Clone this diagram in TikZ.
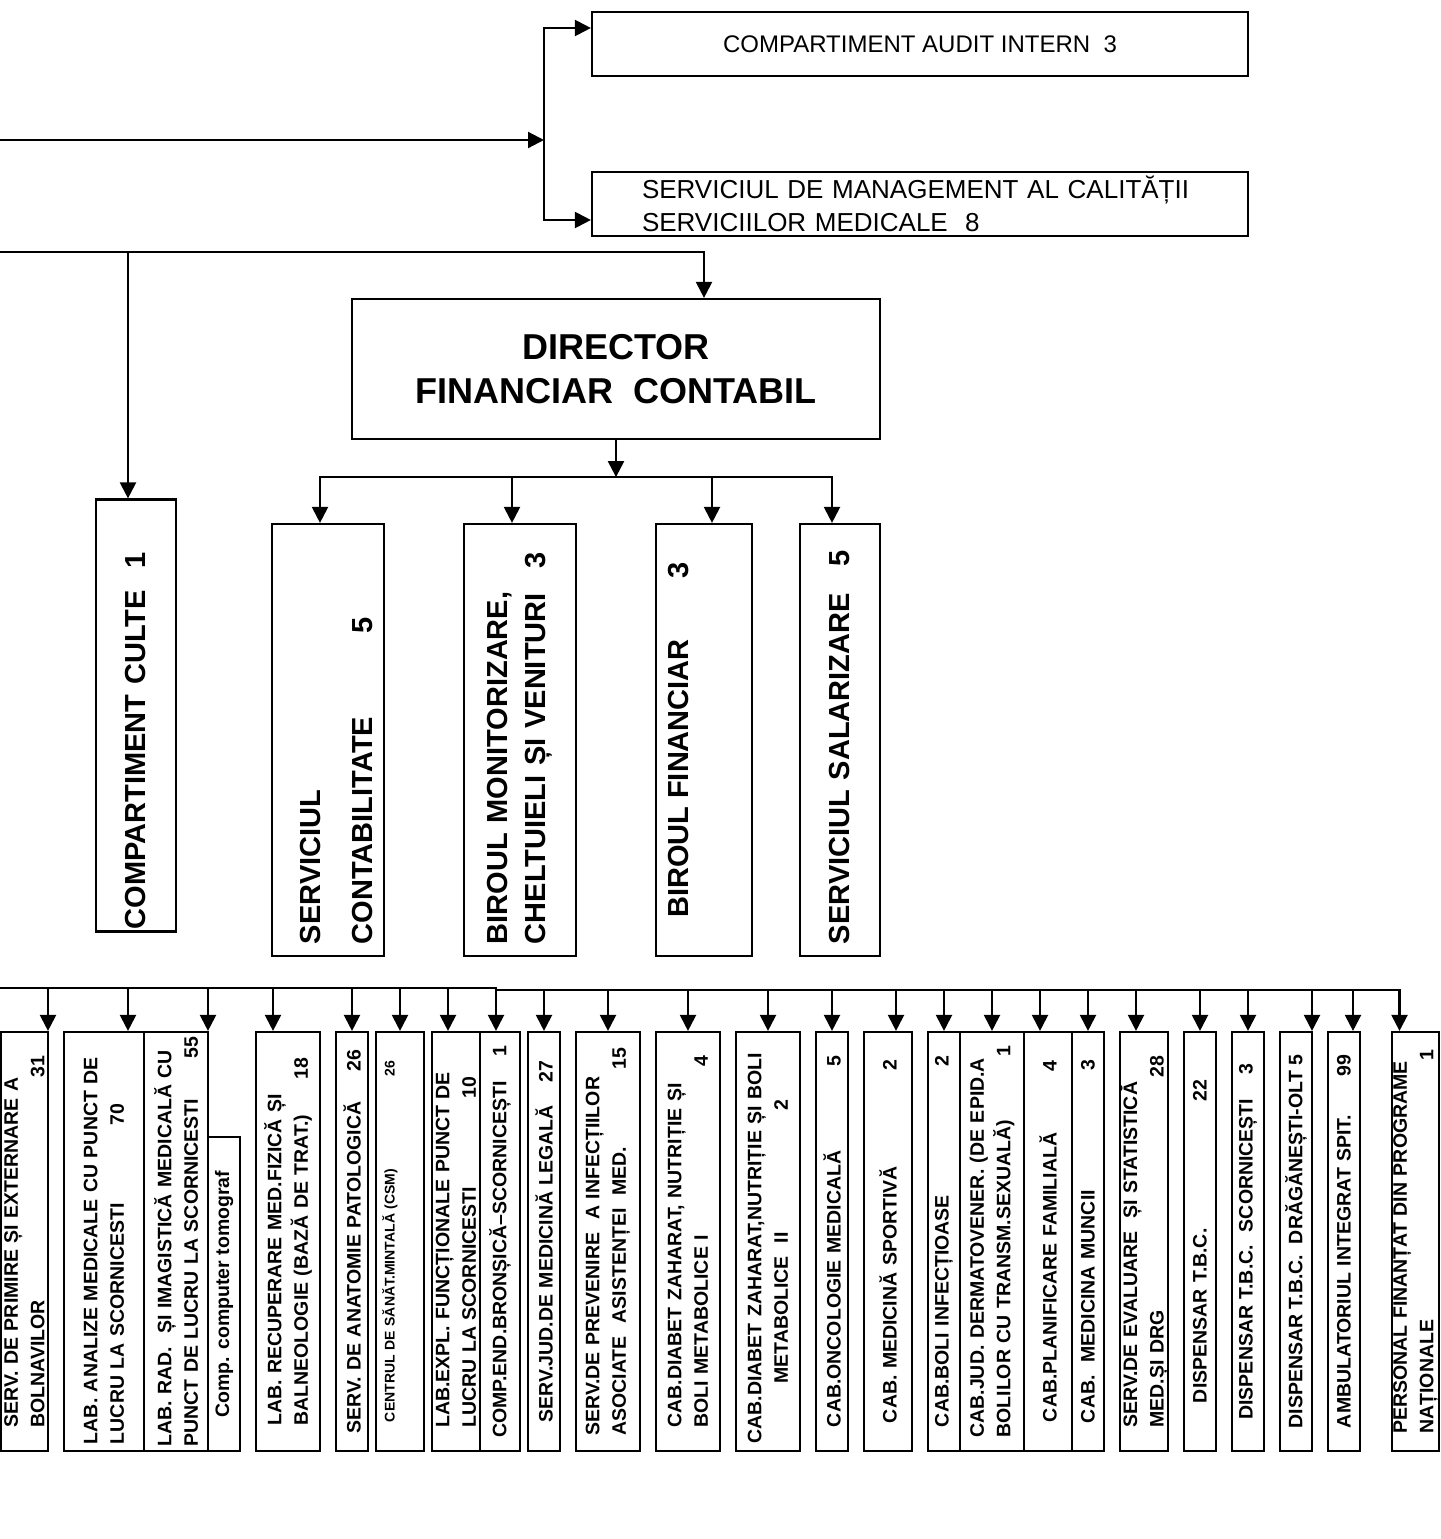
\documentclass[tikz,border=0pt]{standalone}
\usepackage{fontspec}
\setmainfont{Liberation Sans}
\usetikzlibrary{arrows.meta}
\setlength{\parindent}{0pt}
\tikzset{
    wire/.style={draw=black, line width=2.2pt, -{Stealth[length=16pt, width=16pt, inset=0pt]}},
    officebox/.style={
        rectangle, draw=black, line width=2.2pt,
        minimum width=656pt, minimum height=64pt, inner sep=0pt,
        font=\fontsize{24}{33.5}\selectfont
    },
    director/.style={
        rectangle, draw=black, line width=2.2pt, align=center,
        minimum width=528pt, minimum height=140pt,
        font=\bfseries\fontsize{36}{44}\selectfont
    },
    deptbox/.style={
        rectangle, draw=black, line width=2.2pt, rotate=90, align=left,
        minimum width=432pt, inner sep=0pt,
        font=\bfseries\fontsize{29}{38}\selectfont
    },
    unitbox/.style={
        rectangle, draw=black, line width=2.2pt, rotate=90, align=left,
        minimum width=419pt, inner sep=0pt,
        font=\bfseries\fontsize{19.5}{26.5}\selectfont
    }
}

\begin{document}
\begin{tikzpicture}[x=1pt, y=-1pt]
\useasboundingbox (0,0) rectangle (1440,1539);

% Offices (top right)
\node[officebox] (audit) at (920,44) {COMPARTIMENT AUDIT INTERN~~3};
\node[officebox, text width=556pt, align=left, font=\fontsize{26}{33.5}\selectfont] (quality) at (920,204) {SERVICIUL DE MANAGEMENT AL CALITĂȚII\\SERVICIILOR MEDICALE~~8};

% Financial director
\node[director] (dfc) at (616,369) {DIRECTOR\\FINANCIAR~~CONTABIL};

% Cults office
\node[deptbox, minimum height=80pt, text width=427pt] (culte) at (136,715.5) {COMPARTIMENT CULTE\hspace{22pt}1};

% Financial departments
\node[deptbox, minimum height=112pt, text width=408pt, text height=37pt] (cont) at (328,740) {SERVICIUL\\[14pt]CONTABILITATE\hspace{83pt}5};
\node[deptbox, minimum height=112pt, text width=408pt] (monit) at (520,740) {BIROUL MONITORIZARE,\\CHELTUIELI ȘI VENITURI\hspace{25pt}3};
\node[deptbox, minimum height=96pt, text depth=51pt] (fin) at (704,740) {BIROUL FINANCIAR\hspace{61pt}3};
\node[deptbox, minimum height=80pt, text width=408pt] (salar) at (840,740) {SERVICIUL SALARIZARE\hspace{27pt}5};

% Medical units (bottom row)
\node[unitbox, minimum height=47pt, text width=372pt] (b1) at (24.5,1241.5) {SERV. DE PRIMIRE ȘI EXTERNARE A\\BOLNAVILOR\hfill 31};
\node[unitbox, minimum height=80pt, text width=405pt] (b2) at (104,1241.5) {LAB. ANALIZE MEDICALE CU PUNCT DE\\LUCRU LA SCORNICESTI\hspace{78pt}70};
\node[unitbox, minimum height=64pt, text width=410pt] (b3) at (176,1241.5) {LAB. RAD.~ ȘI IMAGISTICĂ MEDICALĂ CU\\PUNCT DE LUCRU LA SCORNICESTI\hfill 55};
\node[unitbox, minimum width=314pt, minimum height=32pt] (b4) at (224,1294) {Comp. computer tomograf};
\node[unitbox, minimum height=64pt, text width=368pt] (b5) at (288,1241.5) {LAB. RECUPERARE MED.FIZICĂ ȘI\\BALNEOLOGIE (BAZĂ DE TRAT.)\hfill 18};
\node[unitbox, minimum height=32pt, text width=384pt] (b6) at (352,1241.5) {SERV. DE ANATOMIE PATOLOGICĂ\hfill 26};
\node[unitbox, minimum height=48pt, text width=361pt, text depth=23pt, font=\bfseries\fontsize{14}{18}\selectfont] (b7) at (400,1241.5) {CENTRUL DE SĂNĂT.MINTALĂ (CSM)\hfill 26};
\node[unitbox, minimum height=48pt, text width=372pt] (b8) at (456,1241.5) {LAB.EXPL. FUNCȚIONALE PUNCT DE\\LUCRU LA SCORNICESTI\hspace{89pt}10};
\node[unitbox, minimum height=40pt, text width=392pt] (b9) at (500,1241.5) {COMP.END.BRONȘICĂ–SCORNICEȘTI\hfill 1};
\node[unitbox, minimum height=32pt, text width=362pt] (b10) at (544,1241.5) {SERV.JUD.DE MEDICINĂ LEGALĂ\hfill 27};
\node[unitbox, minimum height=64pt, text width=388pt] (b11) at (608,1241.5) {SERV.DE PREVENIRE~ A INFECȚIILOR\\ASOCIATE~ ASISTENȚEI~ MED.\hfill 15};
\node[unitbox, minimum height=64pt, text width=372pt] (b12) at (688,1241.5) {CAB.DIABET ZAHARAT, NUTRIȚIE ȘI\\BOLI METABOLICE I\hfill 4};
\node[unitbox, minimum height=64pt, text width=404pt] (b13) at (768,1241.5) {CAB.DIABET ZAHARAT,NUTRIȚIE ȘI BOLI\\\hspace*{60pt}METABOLICE~~II\hspace{122pt}2};
\node[unitbox, minimum height=32pt, text width=371pt] (b14) at (832,1241.5) {CAB.ONCOLOGIE MEDICALĂ\hfill 5};
\node[unitbox, minimum height=48pt, text width=363pt] (b15) at (888,1241.5) {CAB. MEDICINĂ SPORTIVĂ\hfill 2};
\node[unitbox, minimum height=32pt, text width=371pt] (b16) at (944,1241.5) {CAB.BOLI INFECȚIOASE\hfill 2};
\node[unitbox, minimum height=64pt, text width=392pt] (b17) at (992,1241.5) {CAB.JUD. DERMATOVENER. (DE EPID.A\\BOLILOR CU TRANSM.SEXUALĂ)\hfill 1};
\node[unitbox, minimum height=48pt, text width=361pt] (b18) at (1048,1241.5) {CAB.PLANIFICARE FAMILIALĂ\hfill 4};
\node[unitbox, minimum height=32pt, text width=363pt] (b19) at (1088,1241.5) {CAB.~ MEDICINA MUNCII\hfill 3};
\node[unitbox, minimum height=48pt, text width=372pt] (b20) at (1144,1241.5) {SERV.DE EVALUARE~ ȘI STATISTICĂ\\MED.ȘI DRG\hfill 28};
\node[unitbox, minimum height=32pt, text width=323pt] (b21) at (1200,1241.5) {DISPENSAR T.B.C.\hfill 22};
\node[unitbox, minimum height=32pt, text width=356pt] (b22) at (1248,1241.5) {DISPENSAR T.B.C.~ SCORNICEȘTI\hfill 3};
\node[unitbox, minimum height=32pt] (b23) at (1296,1241.5) {DISPENSAR T.B.C.~ DRĂGĂNEȘTI-OLT 5};
\node[unitbox, minimum height=32pt, text width=373pt] (b24) at (1344,1241.5) {AMBULATORIUL INTEGRAT SPIT.\hfill 99};
\node[unitbox, minimum height=47pt, text width=384pt] (b25) at (1415.5,1241.5) {PERSONAL FINANȚAT DIN PROGRAME\\NAȚIONALE\hfill 1};

% Branch points
\coordinate (fromL1) at (0,140);
\coordinate (fork) at (544,140);
\coordinate (fromL2) at (0,252);
\coordinate (cultTap) at (128,252);
\coordinate (finBus) at ([yshift=-37pt]dfc.south);
\coordinate (busL) at (0,988);
\coordinate (busM) at (496,990);

% Upper connections
\draw[wire] (fromL1) -- (fork);
\draw[wire] (fork) |- ([yshift=16pt]audit.west);
\draw[wire] (fork) |- ([yshift=-16pt]quality.west);
\draw[wire] (fromL2) -| ([xshift=88pt]dfc.north);
\draw[wire] (cultTap) -- (cultTap |- culte.east);

% Financial branch
\draw[wire] (dfc.south) -- (finBus);
\draw[wire] (finBus) -| ([xshift=-8pt]cont.east);
\draw[wire] (finBus) -| ([xshift=-8pt]monit.east);
\draw[wire] (finBus) -| ([xshift=8pt]fin.east);
\draw[wire] (finBus) -| ([xshift=-8pt]salar.east);

% Bottom bus
\draw[wire] (busL) -| ([xshift=23.5pt]b1.east);
\draw[wire] (busL) -| ([xshift=24pt]b2.east);
\draw[wire] (busL) -| ([xshift=32pt]b3.east);
\draw[wire] (busL) -| ([xshift=-15pt]b5.east);
\draw[wire] (busL) -| (b6.east);
\draw[wire] (busL) -| (b7.east);
\draw[wire] (busL) -| ([xshift=-8pt]b8.east);
\draw[wire] (busL) -| ([xshift=-4pt]b9.east);
\draw[wire] (busM) -| (b10.east);
\draw[wire] (busM) -| (b11.east);
\draw[wire] (busM) -| (b12.east);
\draw[wire] (busM) -| (b13.east);
\draw[wire] (busM) -| (b14.east);
\draw[wire] (busM) -| ([xshift=8pt]b15.east);
\draw[wire] (busM) -| (b16.east);
\draw[wire] (busM) -| (b17.east);
\draw[wire] (busM) -| ([xshift=-8pt]b18.east);
\draw[wire] (busM) -| (b19.east);
\draw[wire] (busM) -| ([xshift=-8pt]b20.east);
\draw[wire] (busM) -| (b21.east);
\draw[wire] (busM) -| (b22.east);
\draw[wire] (busM) -| ([xshift=16pt]b23.east);
\draw[wire] (busM) -| ([xshift=9pt]b24.east);
\draw[wire] (busM) -| ([xshift=-16pt]b25.east);

\end{tikzpicture}
\end{document}
